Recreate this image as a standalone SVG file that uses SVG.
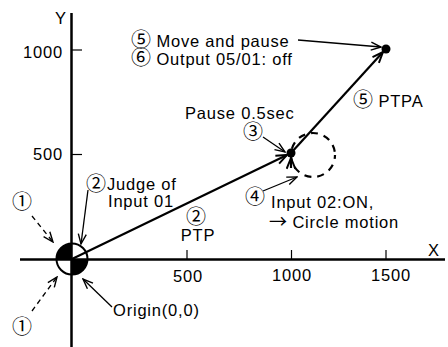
<svg xmlns="http://www.w3.org/2000/svg" width="448" height="347" viewBox="0 0 448 347">
<style>
text{font-family:"Liberation Sans","Noto Sans CJK JP",Arial,sans-serif;font-size:16.5px;fill:#000;letter-spacing:0.8px}
.c{font-family:"Noto Sans CJK JP","Liberation Sans",sans-serif;letter-spacing:0;font-size:20px}
.axis{stroke:#000;stroke-width:2.5;fill:none}
.tick{stroke:#000;stroke-width:1.2}
.main{stroke:#000;stroke-width:2.2;fill:none}
.thin{stroke:#000;stroke-width:1.3;fill:none}
.dash{stroke:#000;stroke-width:1.3;fill:none;stroke-dasharray:5,4}
.mid{text-anchor:middle}
.end{text-anchor:end}
</style>
<defs>
<marker id="ah" viewBox="0 0 12 10" refX="11" refY="5" markerWidth="12" markerHeight="10" markerUnits="userSpaceOnUse" orient="auto">
<path d="M1,1 L11,5 L1,9" fill="none" stroke="#000" stroke-width="1.4"/>
</marker>
<marker id="ahb" viewBox="0 0 12 10" refX="11" refY="5" markerWidth="13" markerHeight="11" markerUnits="userSpaceOnUse" orient="auto">
<path d="M1,1 L11,5 L1,9" fill="none" stroke="#000" stroke-width="1.8"/>
</marker>
</defs>
<rect width="448" height="347" fill="#fff"/>

<g id="origin">
<circle cx="72" cy="259" r="15.5" fill="#fff"/>
<path d="M72,259 L56.5,259 A15.5,15.5 0 0 1 72,243.5 Z" fill="#000"/>
<path d="M72,259 L87.5,259 A15.5,15.5 0 0 1 72,274.5 Z" fill="#000"/>
<circle cx="72" cy="259" r="15.5" fill="none" stroke="#000" stroke-width="2"/>
</g>

<g id="axes">
<line class="axis" x1="71.5" y1="13" x2="71.5" y2="347"/>
<line class="axis" x1="20" y1="259.5" x2="445" y2="259.5"/>
<line class="tick" x1="72" y1="50" x2="82" y2="50"/>
<line class="tick" x1="72" y1="154.5" x2="82" y2="154.5"/>
<line class="tick" x1="187" y1="250" x2="187" y2="259"/>
<line class="tick" x1="291.5" y1="250" x2="291.5" y2="259"/>
<line class="tick" x1="386" y1="250" x2="386" y2="259"/>
<text x="61" y="24" class="mid">Y</text>
<text x="434" y="256" class="mid">X</text>
<text x="63" y="58" class="end">1000</text>
<text x="63" y="160" class="end">500</text>
<text x="188" y="282" class="mid">500</text>
<text x="292" y="281" class="mid">1000</text>
<text x="391" y="281" class="mid">1500</text>
</g>

<g id="circle-motion">
<circle cx="313" cy="155" r="22" class="main" stroke-dasharray="7,6" stroke-dashoffset="3"/>
</g>

<g id="connectors">
<line class="main" x1="72" y1="259" x2="287" y2="155" marker-end="url(#ahb)"/>
<line class="main" x1="291" y1="153" x2="383" y2="52" marker-end="url(#ahb)"/>
<line class="main" x1="291" y1="168" x2="291" y2="158" marker-end="url(#ahb)"/>
<line class="thin" x1="298" y1="40" x2="381" y2="47" marker-end="url(#ah)"/>
<line class="thin" x1="263" y1="137" x2="285" y2="152" marker-end="url(#ah)"/>
<line class="thin" x1="263" y1="191" x2="297" y2="177" marker-end="url(#ah)"/>
<line class="thin" x1="88" y1="190" x2="81" y2="244" marker-end="url(#ah)"/>
<line class="thin" x1="112" y1="307" x2="83" y2="279" marker-end="url(#ah)"/>
<line class="dash" x1="32" y1="216" x2="53" y2="242" marker-end="url(#ah)"/>
<line class="dash" x1="32" y1="311" x2="57" y2="277" marker-end="url(#ah)"/>
</g>

<g id="p1">
<circle cx="291" cy="153" r="4.5" fill="#000"/>
</g>
<g id="p2">
<circle cx="386" cy="49" r="4.5" fill="#000"/>
</g>

<g id="labels">
<text x="131" y="46.5"><tspan class="c">⑤</tspan> Move and pause</text>
<text x="131" y="65"><tspan class="c">⑥</tspan> Output 05/01: off</text>
<text x="185" y="119">Pause 0.5sec</text>
<text x="253" y="139" class="mid c">③</text>
<text x="353" y="107"><tspan class="c">⑤</tspan> PTPA</text>
<text x="86" y="191" class="c">②</text>
<text x="107" y="190">Judge of</text>
<text x="108" y="207">Input 01</text>
<text x="196" y="224" class="mid c">②</text>
<text x="198" y="241" class="mid">PTP</text>
<text x="22" y="209" class="mid c">①</text>
<text x="22" y="334" class="mid c">①</text>
<text x="113" y="316">Origin(0,0)</text>
<text x="255" y="204" class="mid c">④</text>
<text x="271" y="208">Input 02:ON,</text>
<text x="269" y="228"><tspan class="c" style="font-size:18px">→</tspan> Circle motion</text>
</g>
</svg>
